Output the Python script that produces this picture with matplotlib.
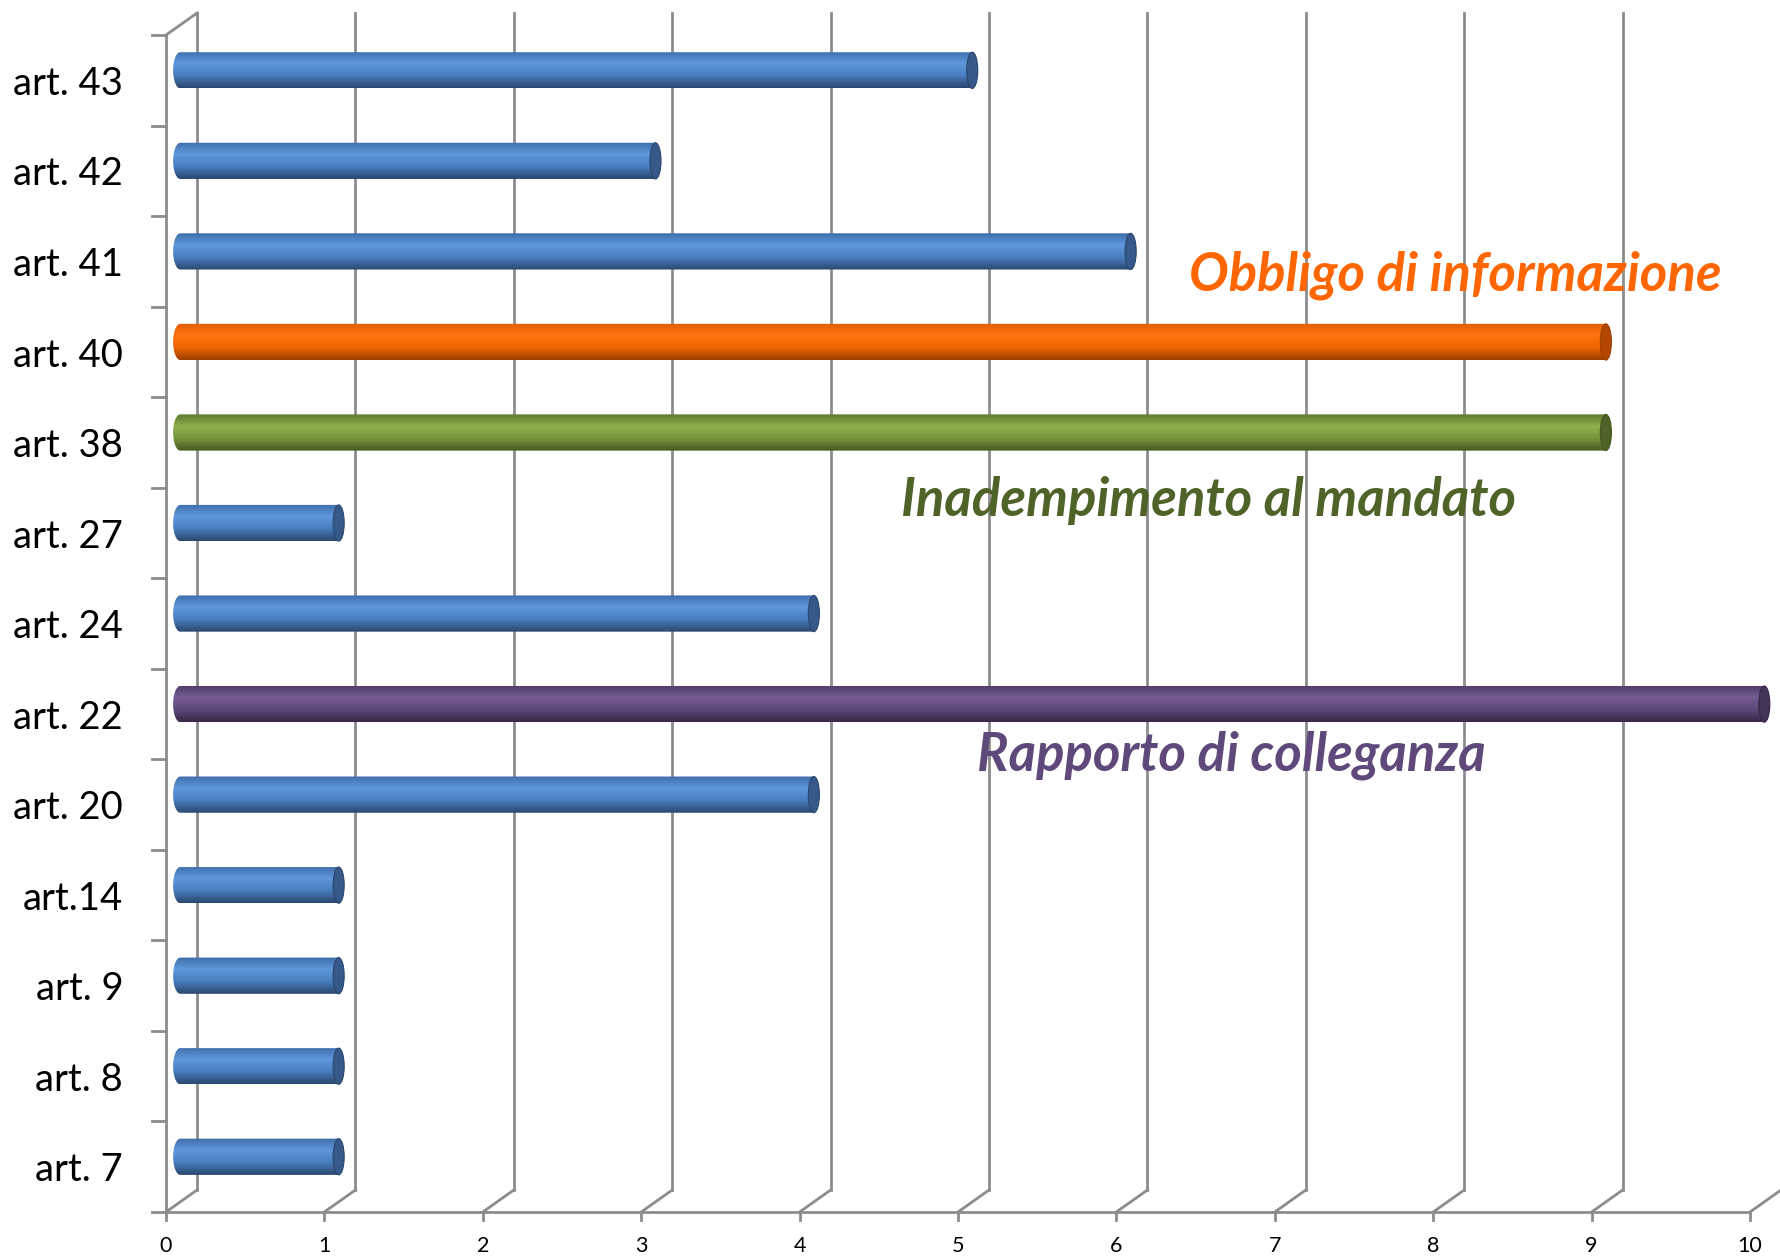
import numpy as np
import matplotlib.pyplot as plt
from matplotlib.path import Path
from matplotlib.patches import PathPatch, Ellipse
from matplotlib.colors import LinearSegmentedColormap

plt.rcParams['font.family'] = ['Lato', 'DejaVu Sans']

# dati
articoli = ['art. 7', 'art. 8', 'art. 9', 'art.14', 'art. 20', 'art. 22', 'art. 24',
            'art. 27', 'art. 38', 'art. 40', 'art. 41', 'art. 42', 'art. 43']
valori = [1, 1, 1, 1, 4, 10, 4, 1, 9, 9, 6, 3, 5]
serie = ['blu', 'blu', 'blu', 'blu', 'blu', 'viola', 'blu', 'blu', 'verde', 'arancio', 'blu', 'blu', 'blu']
x_ticks = list(range(0, 11))

note = ['Obbligo di informazione', 'Inadempimento al mandato', 'Rapporto di colleganza']
note_pos = [(6.46, 9.85), (4.64, 7.36), (5.12, 4.55)]
note_col = ['#FF6600', '#4F6228', '#5F497A']

# colori cilindri: bordo alto, luce, medio, bordo basso, tappo
colori = {
    'blu': ['#3E6DAA', '#5F98DC', '#4A7EC0', '#2A476E', '#36598A'],
    'arancio': ['#E25E00', '#FF7410', '#F26600', '#9E3F00', '#B34700'],
    'verde': ['#5E7A2E', '#8FAF50', '#76963D', '#44591F', '#4F6228'],
    'viola': ['#4E3A68', '#755C95', '#5F497A', '#36284A', '#433356'],
}

grid_col = '#8c8c8c'
dx, dy = 0.196, 0.243     # profondita' della vista 3D (unita' dati)
xmax = 10.2

fig = plt.figure(figsize=(17.81, 12.6), dpi=100)
ax = fig.add_axes([0.0932, 0.0381, 0.08894 * xmax, 0.9341])
ax.axis('off')

n = len(articoli)
ybot, ytop = -0.5, n - 0.5

# griglia posteriore e pavimento
for x in x_ticks:
    ax.plot([x + dx, x + dx], [ybot + dy, ytop + dy], color=grid_col, lw=2, clip_on=False, zorder=1)
    ax.plot([x, x + dx], [ybot, ybot + dy], color=grid_col, lw=2, clip_on=False, zorder=1)
    ax.plot([x, x], [ybot, ybot - 0.09], color=grid_col, lw=2, clip_on=False, zorder=1)
    ax.text(x, ybot - 0.38, str(x), ha='center', va='center', fontsize=15.5, color='black')
ax.plot([0, 0], [ybot, ytop], color=grid_col, lw=2, clip_on=False, zorder=1)
ax.plot([0, dx], [ytop, ytop + dy], color=grid_col, lw=2, clip_on=False, zorder=1)
ax.plot([0, 10], [ybot, ybot], color=grid_col, lw=2, clip_on=False, zorder=1)
for k in range(n + 1):
    ax.plot([-0.09, 0], [ybot + k, ybot + k], color=grid_col, lw=2, clip_on=False, zorder=1)

for i, lab in enumerate(articoli):
    ax.text(-0.27, i - 0.04, lab, ha='right', va='center', fontsize=27.5, color='black')

# cilindri
off = 0.09
h = 0.40
a_l, a_r = 0.045, 0.035
grad = np.linspace(0, 1, 200).reshape(-1, 1)
for i, (v, s) in enumerate(zip(valori, serie)):
    c = colori[s]
    cmap = LinearSegmentedColormap.from_list(s, [(0, c[0]), (0.33, c[1]), (0.65, c[2]), (1, c[3])])
    yc = i + 0.11
    y0, y1 = yc - h / 2, yc + h / 2
    x0, x1 = off, v + off
    t = np.linspace(0, np.pi, 30)
    verts = [(x0, y0), (x1, y0), (x1, y1), (x0, y1)]
    verts += [(x0 - a_l * np.sin(tt), yc + h / 2 * np.cos(tt)) for tt in t]
    verts.append((x0, y0))
    clip = PathPatch(Path(verts), facecolor='none', edgecolor='none')
    ax.add_patch(clip)
    im = ax.imshow(grad, extent=[x0 - a_l, x1, y0, y1], aspect='auto', cmap=cmap,
                   origin='upper', zorder=3)
    im.set_clip_path(clip)
    ax.add_patch(Ellipse((x1, yc), 2 * a_r, h, facecolor=c[4], edgecolor=c[3], lw=0.8, zorder=4))

for txt, (x, y), col in zip(note, note_pos, note_col):
    ax.text(x, y, txt, ha='left', va='center', fontsize=38, fontweight='bold',
            fontstyle='italic', color=col, zorder=5)

ax.set_xlim(0, xmax)
ax.set_ylim(-0.5, 12.5)
fig.savefig('out.png', dpi=100)
